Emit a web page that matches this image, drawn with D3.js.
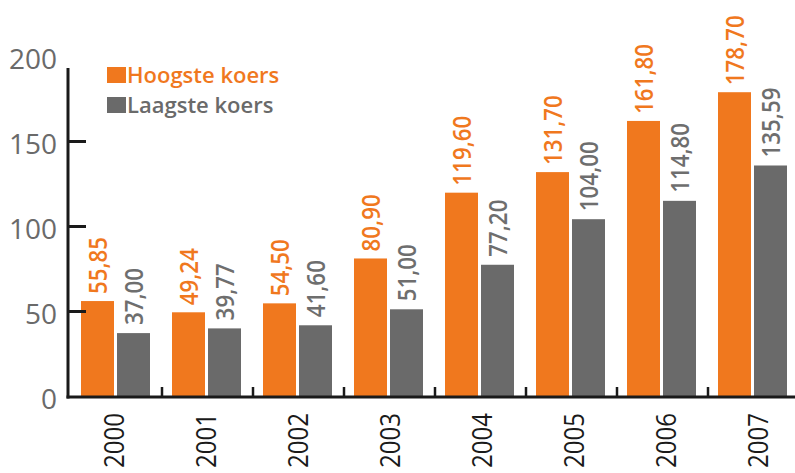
<!DOCTYPE html>
<html>
<head>
<meta charset="utf-8">
<script src="https://cdn.jsdelivr.net/npm/d3@7"></script>
<style>
  body { margin: 0; background: #fff; }
  svg { display: block; font-family: "Open Sans", sans-serif; }
</style>
</head>
<body>
<div id="chart"></div>
<script>
// jaren en koersen
const years = ['2000', '2001', '2002', '2003', '2004', '2005', '2006', '2007'];
const hoogste = [55.85, 49.24, 54.50, 80.90, 119.60, 131.70, 161.80, 178.70];
const laagste = [37.00, 39.77, 41.60, 51.00, 77.20, 104.00, 114.80, 135.59];
const yTicks = [0, 50, 100, 150, 200];
const seriesNames = ['Hoogste koers', 'Laagste koers'];

const orange = '#f0781e';
const grey = '#6a6a6a';

const width = 795, height = 473;
const svg = d3.select('#chart').append('svg')
  .attr('width', width)
  .attr('height', height);

// schalen
const x = d3.scaleBand().domain(years).range([71, 799]);
const xLab = d3.scaleBand().domain(years).range([68, 804]); // jaartallen staan iets ruimer
const y = d3.scaleLinear().domain([0, 200]).range([396, 56]);
const fmt = v => v.toFixed(2).replace('.', ',');

const barW = 33, gap = 3, offset = 10;
const squeeze = 0.86; // smallere letter, zoals in het origineel

// balken
const groups = svg.selectAll('.grp')
  .data(years)
  .enter().append('g')
  .attr('class', 'grp')
  .attr('transform', d => `translate(${x(d)},0)`);

groups.append('rect')
  .attr('x', offset)
  .attr('width', barW)
  .attr('y', (d, i) => y(hoogste[i]))
  .attr('height', (d, i) => y(0) - y(hoogste[i]))
  .attr('fill', orange);

groups.append('rect')
  .attr('x', offset + barW + gap)
  .attr('width', barW)
  .attr('y', (d, i) => y(laagste[i]))
  .attr('height', (d, i) => y(0) - y(laagste[i]))
  .attr('fill', grey);

// waardelabels
groups.append('text')
  .attr('transform', (d, i) => `translate(${offset + barW / 2 + 9.5},${y(hoogste[i]) - 7}) rotate(-90) scale(${squeeze},1)`)
  .attr('fill', orange)
  .style('font-size', '26px')
  .style('font-weight', 600)
  .text((d, i) => fmt(hoogste[i]));

groups.append('text')
  .attr('transform', (d, i) => `translate(${offset + barW + gap + barW / 2 + 9.5},${y(laagste[i]) - 8}) rotate(-90) scale(${squeeze},1)`)
  .attr('fill', '#6e6e6e')
  .style('font-size', '26px')
  .style('font-weight', 600)
  .text((d, i) => fmt(laagste[i]));

// y-as
const yAxis = svg.append('g')
  .attr('transform', 'translate(68,0)')
  .call(d3.axisRight(y).tickValues([50, 100, 150]).tickSize(18).tickFormat(''));
yAxis.select('.domain').remove();
yAxis.selectAll('line').attr('stroke', '#1a1a1a').attr('stroke-width', 3);

svg.append('line')
  .attr('x1', 68).attr('x2', 68)
  .attr('y1', 68).attr('y2', 398.5)
  .attr('stroke', '#1a1a1a').attr('stroke-width', 3);

svg.selectAll('.ylab')
  .data(yTicks)
  .enter().append('text')
  .attr('class', 'ylab')
  .attr('x', 57)
  .attr('y', d => y(d) + 3)
  .attr('dy', '0.36em')
  .attr('text-anchor', 'end')
  .attr('fill', grey)
  .style('font-size', '28px')
  .text(d => d);

// x-as
svg.append('line')
  .attr('x1', 66.5).attr('x2', width)
  .attr('y1', 397).attr('y2', 397)
  .attr('stroke', '#1a1a1a').attr('stroke-width', 3);

svg.selectAll('.xtick')
  .data(years.slice(1))
  .enter().append('line')
  .attr('class', 'xtick')
  .attr('x1', d => x(d)).attr('x2', d => x(d))
  .attr('y1', 387).attr('y2', 397)
  .attr('stroke', '#1a1a1a').attr('stroke-width', 2.5);

svg.selectAll('.xlab')
  .data(years)
  .enter().append('text')
  .attr('class', 'xlab')
  .attr('transform', d => `translate(${xLab(d) + xLab.bandwidth() / 2 + 10},413) rotate(-90) scale(${squeeze},1)`)
  .attr('text-anchor', 'end')
  .attr('fill', '#1a1a1a')
  .style('font-size', '28px')
  .text(d => d);

// legenda
const legend = svg.append('g').attr('transform', 'translate(107,67)');
const legendColors = [orange, grey];
seriesNames.forEach((name, i) => {
  const row = legend.append('g').attr('transform', `translate(0,${i * 30})`);
  row.append('rect')
    .attr('width', 19).attr('height', 16)
    .attr('fill', legendColors[i]);
  row.append('text')
    .attr('x', 20).attr('y', 16)
    .attr('fill', legendColors[i])
    .style('font-size', '22px')
    .style('font-weight', 600)
    .text(name);
});
</script>
</body>
</html>
